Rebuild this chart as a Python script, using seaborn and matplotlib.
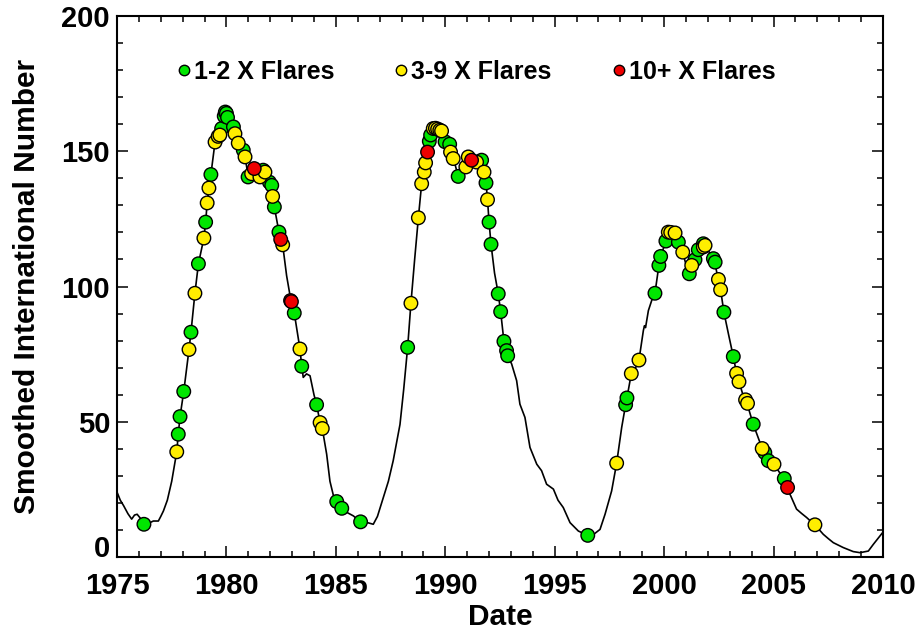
import matplotlib
matplotlib.use("Agg")
import matplotlib.pyplot as plt
from matplotlib.ticker import MultipleLocator
from matplotlib.lines import Line2D
import pandas as pd
import seaborn as sns

# Smoothed sunspot number curve
curve_year = [
    1975.00, 1975.15, 1975.30, 1975.50, 1975.67, 1975.80, 1975.92, 1976.05, 1976.25, 1976.45,
    1976.66, 1976.89, 1977.00, 1977.12, 1977.30, 1977.50, 1977.65, 1977.73, 1977.80, 1977.88,
    1978.05, 1978.29, 1978.38, 1978.56, 1978.72, 1978.97, 1979.05, 1979.12, 1979.20, 1979.29,
    1979.48, 1979.70, 1979.80, 1979.92, 1980.00, 1980.10, 1980.32, 1980.39, 1980.54, 1980.77,
    1980.85, 1980.99, 1981.15, 1981.27, 1981.40, 1981.53, 1981.68, 1981.80, 1981.96, 1982.07,
    1982.11, 1982.19, 1982.40, 1982.48, 1982.57, 1982.75, 1982.95, 1983.10, 1983.36, 1983.44,
    1983.51, 1983.66, 1983.82, 1984.00, 1984.12, 1984.28, 1984.38, 1984.58, 1984.73, 1984.88,
    1985.04, 1985.27, 1985.50, 1985.80, 1986.13, 1986.40, 1986.71, 1986.90, 1987.17, 1987.40,
    1987.62, 1987.93, 1988.10, 1988.28, 1988.43, 1988.60, 1988.77, 1988.92, 1989.04, 1989.10,
    1989.19, 1989.27, 1989.35, 1989.50, 1989.65, 1989.83, 1989.99, 1990.20, 1990.30, 1990.45,
    1990.59, 1990.75, 1990.94, 1991.05, 1991.20, 1991.43, 1991.66, 1991.77, 1991.86, 1991.93,
    1992.00, 1992.09, 1992.25, 1992.42, 1992.53, 1992.68, 1992.85, 1993.03, 1993.26, 1993.41,
    1993.64, 1993.87, 1994.18, 1994.40, 1994.63, 1994.94, 1995.15, 1995.39, 1995.70, 1996.08,
    1996.51, 1996.80, 1997.07, 1997.30, 1997.60, 1997.83, 1998.06, 1998.24, 1998.30, 1998.50,
    1998.70, 1998.85, 1999.05, 1999.10, 1999.15, 1999.28, 1999.43, 1999.58, 1999.76, 1999.84,
    2000.08, 2000.25, 2000.45, 2000.65, 2000.85, 2001.00, 2001.15, 2001.26, 2001.41, 2001.56,
    2001.79, 2001.95, 2002.10, 2002.29, 2002.48, 2002.58, 2002.73, 2002.95, 2003.16, 2003.31,
    2003.42, 2003.60, 2003.76, 2004.07, 2004.30, 2004.48, 2004.60, 2004.76, 2005.02, 2005.25,
    2005.49, 2005.64, 2005.75, 2006.05, 2006.28, 2006.51, 2006.70, 2006.89, 2007.27, 2007.50,
    2007.73, 2008.18, 2008.64, 2008.95, 2009.33, 2009.56, 2009.86, 2010.00,
]
curve_ssn = [
    24.0, 21.0, 19.0, 16.0, 14.0, 15.5, 15.8, 14.5, 12.2, 12.5,
    13.3, 13.3, 15.0, 17.0, 21.0, 28.0, 35.0, 38.9, 45.4, 51.9,
    61.2, 76.7, 83.1, 97.5, 108.4, 117.9, 123.8, 130.9, 136.4, 141.4,
    153.4, 156.0, 158.5, 164.0, 164.5, 162.0, 159.0, 156.5, 153.0, 150.4,
    147.9, 141.0, 141.7, 143.6, 142.0, 140.5, 143.0, 141.5, 138.6, 137.4,
    133.3, 129.4, 120.1, 117.4, 115.4, 104.0, 94.6, 90.2, 76.9, 70.5,
    66.4, 67.7, 67.0, 60.0, 56.3, 49.7, 47.5, 38.0, 28.0, 23.0,
    20.5, 18.0, 16.5, 15.2, 13.0, 12.8, 12.1, 15.0, 22.0, 28.0,
    35.6, 49.0, 62.0, 77.5, 93.8, 110.0, 125.4, 138.0, 142.3, 145.7,
    149.7, 153.7, 156.0, 158.5, 158.3, 157.5, 153.5, 152.6, 148.5, 145.0,
    140.7, 142.0, 144.2, 147.9, 146.7, 146.0, 146.7, 142.3, 138.3, 132.1,
    123.8, 115.6, 105.0, 97.3, 90.7, 79.7, 74.4, 71.4, 65.2, 56.5,
    51.6, 40.5, 34.3, 31.9, 26.9, 25.1, 21.0, 18.3, 12.7, 9.6,
    8.0, 8.5, 10.2, 15.8, 24.4, 34.7, 47.9, 56.3, 58.8, 67.8,
    70.0, 72.8, 83.7, 85.5, 84.8, 91.1, 94.8, 97.5, 107.8, 111.1,
    116.8, 120.1, 119.8, 116.4, 112.7, 108.0, 104.7, 107.8, 109.9, 113.6,
    115.5, 114.5, 112.0, 109.5, 102.6, 98.8, 90.5, 82.0, 74.1, 67.9,
    64.8, 60.0, 57.5, 49.1, 44.0, 40.1, 38.0, 35.6, 34.3, 31.5,
    29.0, 25.7, 23.2, 17.7, 16.1, 14.6, 13.2, 11.9, 8.4, 6.8,
    5.3, 3.5, 2.0, 1.6, 2.2, 4.7, 7.8, 9.2,
]

# Flare months: 1-2 X flares
green_year = [
    1976.23, 1977.80, 1977.88, 1978.05, 1978.38, 1978.72, 1979.05, 1979.29, 1979.78, 1979.90,
    1979.95, 1980.00, 1980.05, 1980.32, 1980.77, 1980.99, 1981.68, 1981.96, 1982.07, 1982.19,
    1982.40, 1983.10, 1983.44, 1984.12, 1985.04, 1985.27, 1986.13,
    1988.28, 1989.27, 1989.33, 1989.99, 1990.20, 1990.59, 1991.66, 1991.86, 1992.00, 1992.09,
    1992.42, 1992.53, 1992.68, 1992.80, 1992.85,
    1996.51, 1998.24, 1998.30, 1999.58, 1999.76, 1999.84, 2000.08, 2000.65, 2001.15, 2001.41,
    2001.56, 2001.79, 2002.25, 2002.33, 2002.73, 2003.16, 2004.07, 2004.60, 2004.76, 2005.49,
]
green_ssn = [
    12.1, 45.4, 51.9, 61.2, 83.1, 108.4, 123.8, 141.4, 158.4, 163.0,
    164.5, 164.0, 162.5, 159.0, 150.4, 140.5, 143.0, 138.6, 137.4, 129.4,
    120.1, 90.2, 70.5, 56.3, 20.5, 18.0, 13.0,
    77.5, 153.7, 156.0, 153.5, 152.6, 140.7, 146.7, 138.3, 123.8, 115.6,
    97.3, 90.7, 79.7, 76.3, 74.4,
    8.0, 56.3, 58.8, 97.5, 107.8, 111.1, 116.8, 116.4, 104.7, 109.9,
    113.6, 115.8, 110.3, 109.0, 90.5, 74.1, 49.1, 38.6, 35.6, 29.0,
]

# 3-9 X flares
yellow_year = [
    1977.73, 1978.29, 1978.56, 1978.97, 1979.12, 1979.20, 1979.48, 1979.62, 1979.70, 1980.39,
    1980.54, 1980.85, 1981.15, 1981.53, 1981.76, 1982.11, 1982.57, 1983.36, 1984.28, 1984.38,
    1988.43, 1988.77, 1988.92, 1989.04, 1989.10, 1989.45, 1989.55, 1989.65, 1989.75, 1989.83,
    1990.24, 1990.36, 1990.94, 1991.05, 1991.43, 1991.77, 1991.93,
    1997.83, 1998.50, 1998.85, 2000.19, 2000.30, 2000.50, 2000.85, 2001.26, 2001.79, 2001.87,
    2002.48, 2002.58, 2003.31, 2003.42, 2003.72, 2003.81, 2004.48, 2005.02, 2006.89,
]
yellow_ssn = [
    38.9, 76.7, 97.5, 117.9, 130.9, 136.4, 153.4, 155.5, 156.0, 156.5,
    153.0, 147.9, 141.7, 140.5, 142.3, 133.3, 115.4, 76.9, 49.7, 47.5,
    93.8, 125.4, 138.0, 142.3, 145.7, 158.4, 158.5, 158.2, 157.8, 157.5,
    149.7, 147.3, 144.2, 147.9, 146.0, 142.3, 132.1,
    34.7, 67.8, 72.8, 120.1, 120.0, 119.8, 112.7, 107.8, 114.6, 115.2,
    102.6, 98.8, 67.9, 64.8, 58.1, 56.8, 40.1, 34.3, 11.9,
]

# 10+ X flares
red_year = [1981.27, 1982.48, 1982.93, 1982.97, 1989.19, 1991.20, 2005.64]
red_ssn = [143.6, 117.4, 94.8, 94.4, 149.7, 146.7, 25.7]

labels = ["1-2 X Flares", "3-9 X Flares", "10+ X Flares"]
colors = ["#00e600", "#ffee00", "#ee0000"]

flares = pd.DataFrame({
    "year": green_year + yellow_year + red_year,
    "ssn": green_ssn + yellow_ssn + red_ssn,
    "cls": [labels[0]] * len(green_year) + [labels[1]] * len(yellow_year) + [labels[2]] * len(red_year),
})

sns.set_theme(style="ticks")
plt.rcParams["font.family"] = ["Liberation Sans", "DejaVu Sans"]
plt.rcParams["font.weight"] = "bold"
plt.rcParams["text.color"] = "black"
plt.rcParams["axes.labelcolor"] = "black"

fig = plt.figure(figsize=(9.18, 6.32), dpi=100)
ax = fig.add_axes([117 / 918, 75 / 632, 766 / 918, 541 / 632])

sns.lineplot(x=curve_year, y=curve_ssn, color="black", linewidth=1.2,
             estimator=None, sort=False, ax=ax)
sns.scatterplot(data=flares, x="year", y="ssn", hue="cls", hue_order=labels,
                palette=dict(zip(labels, colors)), s=95, edgecolor="black",
                linewidth=1.0, legend=False, zorder=3, ax=ax)

ax.set_xlim(1975, 2010)
ax.set_ylim(0, 200)
ax.xaxis.set_major_locator(MultipleLocator(5))
ax.xaxis.set_minor_locator(MultipleLocator(1))
ax.yaxis.set_major_locator(MultipleLocator(50))
ax.yaxis.set_minor_locator(MultipleLocator(10))
ax.tick_params(which="both", direction="in", top=True, right=True, width=1.1,
               colors="black", labelsize=21)
ax.tick_params(which="major", length=8)
ax.tick_params(which="minor", length=4)
ax.tick_params(axis="x", which="major", pad=11)
ax.tick_params(axis="y", which="major", pad=5)
for sp in ax.spines.values():
    sp.set_linewidth(1.5)
    sp.set_color("black")

ax.set_xlabel("Date", fontsize=21.5, fontweight="bold", labelpad=2, color="black")
ax.set_ylabel("Smoothed International Number", fontsize=21.5, fontweight="bold",
              labelpad=15, color="black")

handles = [Line2D([], [], marker="o", linestyle="none", markersize=7.5,
                  markerfacecolor=c, markeredgecolor="black", markeredgewidth=1.0)
           for c in colors]
ax.legend(handles, labels, ncol=3, frameon=False, loc="center left",
          bbox_to_anchor=(0.062, 0.897), prop={"size": 18, "weight": "bold"},
          handlelength=0.55, handletextpad=0.12, columnspacing=2.41, borderpad=0)

# lift the "0" label off the corner, as in the original
fig.canvas.draw()
for tick in ax.yaxis.get_major_ticks():
    tick.label1.set_fontweight("bold")
    if tick.get_loc() == 0:
        tick.label1.set_verticalalignment("baseline")
for tick in ax.xaxis.get_major_ticks():
    tick.label1.set_fontweight("bold")

fig.savefig("out.png", dpi=100)
